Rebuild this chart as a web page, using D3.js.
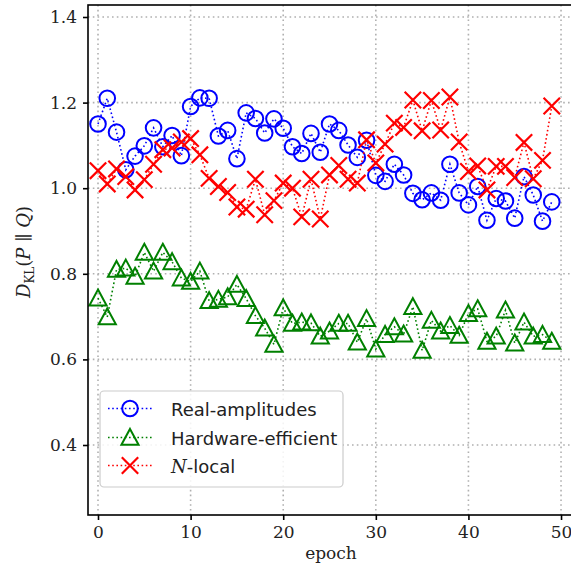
<!DOCTYPE html>
<html><head><meta charset="utf-8">
<script src="https://cdn.jsdelivr.net/npm/d3@7"></script>
<style>body{margin:0;background:#fff}svg{display:block}</style>
</head><body>
<script>
const epochs = d3.range(0, 50);
const realAmplitudes = [1.150,1.210,1.131,1.043,1.075,1.099,1.141,1.097,1.123,1.076,1.191,1.211,1.210,1.122,1.135,1.069,1.176,1.163,1.129,1.162,1.140,1.097,1.081,1.128,1.084,1.150,1.135,1.101,1.072,1.112,1.030,1.016,1.056,1.031,0.988,0.973,0.989,0.972,1.056,0.989,0.961,1.004,0.925,0.976,0.970,0.930,1.027,0.984,0.923,0.968];
const hardwareEfficient = [0.743,0.699,0.810,0.813,0.794,0.850,0.806,0.850,0.828,0.790,0.782,0.806,0.737,0.740,0.746,0.775,0.742,0.702,0.673,0.635,0.720,0.684,0.687,0.685,0.654,0.666,0.684,0.684,0.640,0.695,0.624,0.658,0.676,0.659,0.723,0.621,0.691,0.666,0.679,0.656,0.707,0.718,0.642,0.654,0.715,0.638,0.687,0.654,0.658,0.642];
const nLocal = [1.041,1.010,1.045,1.027,0.996,1.020,1.056,1.090,1.094,1.108,1.116,1.078,1.023,1.004,0.990,0.956,0.951,1.021,0.938,0.971,1.012,1.000,0.933,1.021,0.928,1.031,1.053,1.021,1.012,1.113,1.059,1.103,1.152,1.142,1.206,1.134,1.205,1.136,1.213,1.108,1.039,1.052,0.996,1.051,1.051,1.025,1.107,1.022,1.065,1.192];
const xTicks = [0,10,20,30,40,50];
const yTicks = [0.4,0.6,0.8,1.0,1.2,1.4];
const seriesNames = ["Real-amplitudes","Hardware-efficient","N-local"];
const seriesColors = ["#0000ff","#008000","#ff0000"];
const seriesShapes = ["circle","triangle","cross"];

const W = 571, H = 567;
const L = 88, R = 574, T = 5, B = 515;
const svg = d3.select("body").append("svg").attr("width", W).attr("height", H);
const x = d3.scaleLinear().domain([-1.08, 51.4]).range([L, R]);
const y = d3.scaleLinear().domain([0.4, 1.4]).range([445, 17]);

const serif = "'DejaVu Serif', 'Liberation Serif', serif";
const sans = "'DejaVu Sans', sans-serif";

// grid
const grid = svg.append("g").attr("stroke", "#b0b0b0").attr("stroke-width", 1.6).attr("stroke-dasharray", "1.6,3.2");
xTicks.forEach(t => grid.append("line").attr("x1", x(t)).attr("x2", x(t)).attr("y1", T).attr("y2", B));
yTicks.forEach(t => grid.append("line").attr("x1", L).attr("x2", R).attr("y1", y(t)).attr("y2", y(t)));

const data = [realAmplitudes, hardwareEfficient, nLocal];

function marker(g, shape, color, cx, cy) {
  if (shape === "circle") {
    g.append("circle").attr("cx", cx).attr("cy", cy).attr("r", 7.8).attr("fill", "none").attr("stroke", color).attr("stroke-width", 2);
  } else if (shape === "triangle") {
    const s = 8.6;
    g.append("path").attr("d", `M${cx},${cy - s} L${cx + s},${cy + s * 0.85} L${cx - s},${cy + s * 0.85} Z`)
      .attr("fill", "none").attr("stroke", color).attr("stroke-width", 2).attr("stroke-linejoin", "miter");
  } else {
    const s = 8.2;
    g.append("path").attr("d", `M${cx - s},${cy - s} L${cx + s},${cy + s} M${cx - s},${cy + s} L${cx + s},${cy - s}`)
      .attr("stroke", color).attr("stroke-width", 2.2);
  }
}

const plot = svg.append("g");
data.forEach((vals, i) => {
  const g = plot.append("g");
  const line = d3.line().x((d, j) => x(epochs[j])).y(d => y(d));
  g.append("path").attr("d", line(vals)).attr("fill", "none").attr("stroke", seriesColors[i])
    .attr("stroke-width", 1.6).attr("stroke-dasharray", "1.6,2.6");
  vals.forEach((v, j) => marker(g, seriesShapes[i], seriesColors[i], x(epochs[j]), y(v)));
});

// frame
svg.append("rect").attr("x", L).attr("y", T).attr("width", R - L).attr("height", B - T)
  .attr("fill", "none").attr("stroke", "#000").attr("stroke-width", 1.6);

// axes
const xAxis = svg.append("g").attr("transform", `translate(0,${B})`)
  .call(d3.axisBottom(x).tickValues(xTicks).tickFormat(d3.format("d")).tickSize(5).tickPadding(6));
const yAxis = svg.append("g").attr("transform", `translate(${L},0)`)
  .call(d3.axisLeft(y).tickValues(yTicks).tickFormat(d3.format(".1f")).tickSize(5).tickPadding(6));
[xAxis, yAxis].forEach(a => {
  a.select(".domain").remove();
  a.selectAll(".tick line").attr("stroke", "#000").attr("stroke-width", 1.6);
  a.selectAll(".tick text").attr("font-family", serif).attr("font-size", 17).attr("fill", "#222");
});

// x label
svg.append("text").attr("x", (L + R) / 2).attr("y", 559).attr("text-anchor", "middle")
  .attr("font-family", serif).attr("font-size", 17).attr("fill", "#222").text("epoch");

// y label
const yl = svg.append("text").attr("transform", `translate(30,252) rotate(-90)`)
  .attr("text-anchor", "middle").attr("font-family", serif).attr("font-size", 18).attr("fill", "#222");
yl.append("tspan").attr("font-style", "italic").text("D");
yl.append("tspan").attr("font-size", 12).attr("dy", 4).text("KL");
yl.append("tspan").attr("dy", -4).text("(");
yl.append("tspan").attr("font-style", "italic").text("P");
yl.append("tspan").text(" \u2225 ");
yl.append("tspan").attr("font-style", "italic").text("Q");
yl.append("tspan").text(")");

// legend
const lg = svg.append("g");
lg.append("rect").attr("x", 100).attr("y", 391).attr("width", 243).attr("height", 96).attr("rx", 4)
  .attr("fill", "#fff").attr("fill-opacity", 0.85).attr("stroke", "#cccccc").attr("stroke-width", 1.2);
const rows = [408.5, 437.5, 465.5];
seriesNames.forEach((name, i) => {
  lg.append("line").attr("x1", 108).attr("x2", 152).attr("y1", rows[i]).attr("y2", rows[i])
    .attr("stroke", seriesColors[i]).attr("stroke-width", 1.6).attr("stroke-dasharray", "1.6,2.6");
  marker(lg, seriesShapes[i], seriesColors[i], 130, rows[i]);
  const t = lg.append("text").attr("x", 171).attr("y", rows[i] + 7).attr("font-family", sans)
    .attr("font-size", 18).attr("fill", "#222");
  if (name === "N-local") {
    t.append("tspan").attr("font-family", serif).attr("font-style", "italic").text("N");
    t.append("tspan").text("-local");
  } else t.text(name);
});
</script>
</body></html>
